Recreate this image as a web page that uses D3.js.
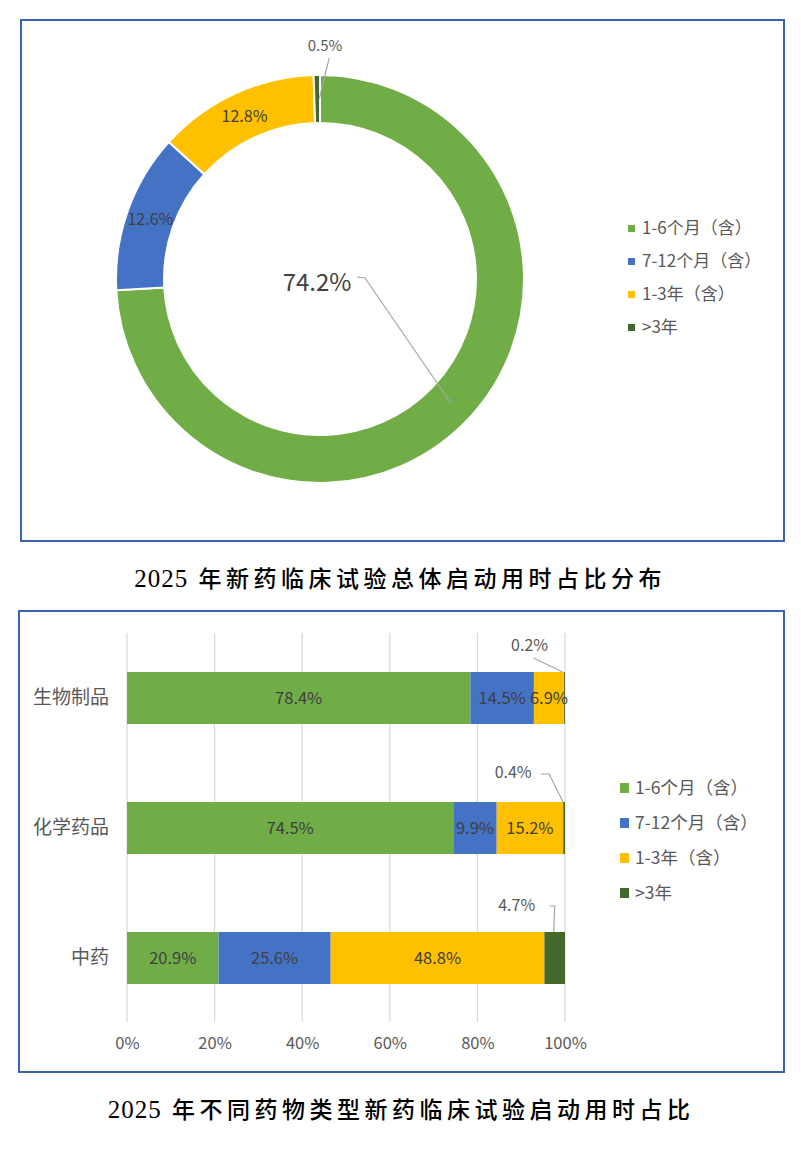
<!DOCTYPE html>
<html><head><meta charset="utf-8">
<script src="https://cdn.jsdelivr.net/npm/d3@7"></script>
<style>
body{margin:0;background:#fff;}
svg{display:block;}
</style></head>
<body>
<svg id="c" width="801" height="1161"></svg>
<script>
const seriesNames = ["1-6个月（含）", "7-12个月（含）", "1-3年（含）", ">3年"];
const colors = ["#70AD47", "#4472C4", "#FFC000", "#43682B"];
const overallValues = [74.2, 12.6, 12.8, 0.5];
const categories = ["生物制品", "化学药品", "中药"];
const bioValues = [78.4, 14.5, 6.9, 0.2];
const chemValues = [74.5, 9.9, 15.2, 0.4];
const tcmValues = [20.9, 25.6, 48.8, 4.7];
const xTicks = [0, 20, 40, 60, 80, 100];
const caption1 = ["2025", " 年新药临床试验总体启动用时占比分布"];
const caption2 = ["2025", " 年不同药物类型新药临床试验启动用时占比"];

const svg = d3.select("#c");
const FONT = "'Noto Sans CJK SC','Noto Sans',sans-serif";
const SERIF = "'Liberation Serif','Noto Sans CJK SC',serif";
const txtCol = "#595959";
const lblCol = "#404040";
const leadCol = "#A6A6A6";

function caption(parts, cxp, yp) {
  const t = svg.append("text").attr("x", cxp).attr("y", yp).attr("text-anchor", "middle")
    .attr("font-family", SERIF).attr("font-size", 23).attr("font-weight", 500).attr("fill", "#000");
  t.append("tspan").attr("font-size", 25).attr("letter-spacing", 1).text(parts[0]);
  t.append("tspan").attr("letter-spacing", 4.5).text(parts[1]);
}

// ---------- Top box ----------
svg.append("rect").attr("x", 21).attr("y", 20).attr("width", 763).attr("height", 521)
  .attr("fill", "none").attr("stroke", "#3A62AE").attr("stroke-width", 2);

const cx = 320, cy = 279, rOuter = 204, rInner = 156;
const pie = d3.pie().sort(null).value(d => d)(overallValues);
const arc = d3.arc().innerRadius(rInner).outerRadius(rOuter);
const g1 = svg.append("g").attr("transform", `translate(${cx},${cy})`);
g1.selectAll("path").data(pie).join("path")
  .attr("d", arc).attr("fill", (d, i) => colors[i])
  .attr("stroke", "#fff").attr("stroke-width", 2);

const lblArc = d3.arc().innerRadius(180).outerRadius(180);
[1, 2].forEach(i => {
  const [x, y] = lblArc.centroid(pie[i]);
  g1.append("text").attr("x", x).attr("y", y + 6).attr("text-anchor", "middle")
    .attr("font-family", FONT).attr("font-size", 16).attr("fill", lblCol)
    .text(overallValues[i].toFixed(1) + "%");
});
{
  const [x, y] = lblArc.centroid(pie[0]);
  const lx = -3, ly = 3;
  g1.append("path").attr("d", `M${x},${y}L${lx + 48},${ly - 4}L${lx + 40},${ly - 5}`)
    .attr("fill", "none").attr("stroke", leadCol).attr("stroke-width", 1.2);
  g1.append("text").attr("x", lx).attr("y", ly + 9).attr("text-anchor", "middle")
    .attr("font-family", FONT).attr("font-size", 24).attr("fill", lblCol)
    .text(overallValues[0].toFixed(1) + "%");
}
{
  const [x, y] = lblArc.centroid(pie[3]);
  g1.append("path").attr("d", `M${x + 2},${y}L${x + 12},${-221}`)
    .attr("fill", "none").attr("stroke", leadCol).attr("stroke-width", 1.2);
  g1.append("text").attr("x", 5).attr("y", -228).attr("text-anchor", "middle")
    .attr("font-family", FONT).attr("font-size", 15).attr("fill", txtCol)
    .text(overallValues[3].toFixed(1) + "%");
}
const leg1 = svg.append("g").attr("transform", "translate(628,228)");
seriesNames.forEach((n, i) => {
  const gg = leg1.append("g").attr("transform", `translate(0,${i * 33})`);
  gg.append("rect").attr("x", 0).attr("y", -3).attr("width", 7).attr("height", 7).attr("fill", colors[i]);
  gg.append("text").attr("x", 14).attr("y", 6).attr("font-family", FONT).attr("font-size", 17)
    .attr("fill", txtCol).text(n);
});

caption(caption1, 400, 587);

// ---------- Bottom box ----------
svg.append("rect").attr("x", 19).attr("y", 611).attr("width", 765).attr("height", 461)
  .attr("fill", "none").attr("stroke", "#3A62AE").attr("stroke-width", 2);

const x = d3.scaleLinear().domain([0, 100]).range([127, 565]);
const y = d3.scaleBand().domain(categories).range([633, 1023]).paddingInner(0.6).paddingOuter(0.3);
const rows = [bioValues, chemValues, tcmValues];

svg.append("g").selectAll("line").data(xTicks).join("line")
  .attr("x1", d => x(d)).attr("x2", d => x(d)).attr("y1", 633).attr("y2", 1022)
  .attr("stroke", "#D9D9D9").attr("stroke-width", 1.2);
const xAxis = d3.axisBottom(x).tickValues(xTicks).tickFormat(d => d + "%").tickSize(0).tickPadding(0);
const xg = svg.append("g").attr("transform", "translate(0,1040)").call(xAxis);
xg.select(".domain").remove();
xg.selectAll("text").attr("font-family", FONT).attr("font-size", 16.5).attr("fill", txtCol).attr("dy", "0.55em");

const yAxis = d3.axisLeft(y).tickSize(0).tickPadding(0);
const yg = svg.append("g").attr("transform", "translate(109,0)").call(yAxis);
yg.select(".domain").remove();
yg.selectAll("text").attr("font-family", FONT).attr("font-size", 19).attr("fill", txtCol);

const stackData = categories.map((c, ci) => {
  const o = { cat: c };
  seriesNames.forEach((s, si) => o[s] = rows[ci][si]);
  return o;
});
const stack = d3.stack().keys(seriesNames)(stackData);
const barG = svg.append("g");
stack.forEach((layer, si) => {
  barG.selectAll(null).data(layer).join("rect")
    .attr("x", d => x(d[0])).attr("width", d => x(d[1]) - x(d[0]))
    .attr("y", d => y(d.data.cat)).attr("height", y.bandwidth())
    .attr("fill", colors[si]);
});
stack.forEach((layer, si) => {
  if (si === 3) return;
  barG.selectAll(null).data(layer).join("text")
    .attr("x", d => (x(d[0]) + x(d[1])) / 2)
    .attr("y", d => y(d.data.cat) + y.bandwidth() / 2 + 6)
    .attr("text-anchor", "middle").attr("font-family", FONT).attr("font-size", 16.5)
    .attr("fill", lblCol).text(d => d.data[seriesNames[si]].toFixed(1) + "%");
});
const outer = stack[3];
const outerLbl = [
  { dx: -35, dy: -21, path: (px, py) => `M${px - 2},${py}L${px - 31},${py - 14}` },
  { dx: -51, dy: -24, path: (px, py) => `M${px - 1},${py}L${px - 15},${py - 28}L${px - 23},${py - 28}` },
  { dx: -38, dy: -21, path: (px, py) => `M${px - 1},${py}L${px},${py - 26}L${px - 5},${py - 26}` }
];
outer.forEach((d, i) => {
  const px = (x(d[0]) + x(d[1])) / 2, py = y(d.data.cat);
  const o = outerLbl[i];
  barG.append("path").attr("d", o.path(px, py)).attr("fill", "none")
    .attr("stroke", leadCol).attr("stroke-width", 1.2);
  barG.append("text").attr("x", px + o.dx).attr("y", py + o.dy).attr("text-anchor", "middle")
    .attr("font-family", FONT).attr("font-size", 16).attr("fill", txtCol)
    .text(d.data[seriesNames[3]].toFixed(1) + "%");
});

const leg2 = svg.append("g").attr("transform", "translate(620,788)");
seriesNames.forEach((n, i) => {
  const gg = leg2.append("g").attr("transform", `translate(0,${i * 35})`);
  gg.append("rect").attr("x", 0).attr("y", -5).attr("width", 9).attr("height", 10).attr("fill", colors[i]);
  gg.append("text").attr("x", 15).attr("y", 6).attr("font-family", FONT).attr("font-size", 17.5)
    .attr("fill", txtCol).text(n);
});

caption(caption2, 401, 1118);
</script>
</body></html>
